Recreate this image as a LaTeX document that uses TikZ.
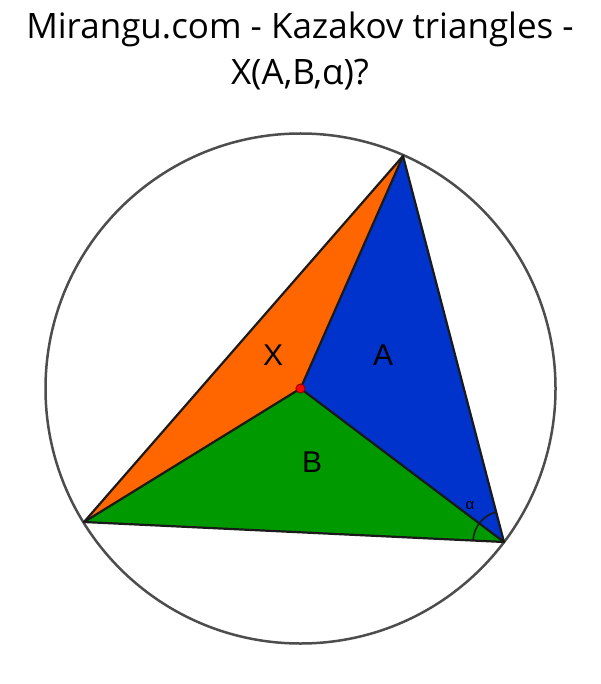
\documentclass[tikz,border=0pt]{standalone}
\usepackage{fontspec}
\setmainfont{Open Sans}
\newfontfamily\labelfont{Liberation Sans}
\usetikzlibrary{positioning,angles}

\definecolor{fillX}{HTML}{FF6600}
\definecolor{fillA}{HTML}{0033CC}
\definecolor{fillB}{HTML}{009900}
\definecolor{rim}{HTML}{4D4D4D}
\definecolor{edge}{HTML}{1A1A1A}

\begin{document}
\begin{tikzpicture}[x=1pt,y=-1pt,
    side/.style={draw=edge, line width=2.2pt, line join=round},
    part/.style={font=\labelfont\fontsize{30}{33}\selectfont}]
    \useasboundingbox (0,0) rectangle (600,684);

    % Titel
    \node [align=center, font=\fontsize{35}{46}\selectfont] (title) at (300,51) {Mirangu.com - Kazakov triangles -\\X(A,B,α)?};

    % Punkte
    \coordinate (top) at (403,156);
    \coordinate (left) at (84,522);
    \coordinate (right) at (504,542);
    \coordinate (center) at (300.5,388.5);

    % Flaechen
    \fill [fillX] (left) -- (top) -- (center) -- cycle;
    \fill [fillA] (top) -- (right) -- (center) -- cycle;
    \fill [fillB] (left) -- (center) -- (right) -- cycle;

    % Kreis
    \draw [rim, line width=2.5pt] (center) circle (255);

    % Seiten
    \draw [side] (left) -- (top) -- (right) -- cycle;
    \draw [side] (center) -- (top);
    \draw [side] (center) -- (left);
    \draw [side] (center) -- (right);

    % Winkel alpha
    \pic [draw=edge, line width=1.6pt, angle radius=31pt] {angle=top--right--left};
    \node [font=\labelfont\fontsize{15}{17}\selectfont] (alpha) at (470,506) {α};

    % Mittelpunkt
    \node [circle, fill=red, draw=red!55!black, line width=1pt, inner sep=0pt, minimum size=9pt] (dot) at (center) {};

    % Beschriftung
    \node [part] (labelX) at (273,355) {X};
    \node [part] (labelA) at (383,355) {A};
    \node [part] (labelB) at (312,462) {B};

\end{tikzpicture}
\end{document}
